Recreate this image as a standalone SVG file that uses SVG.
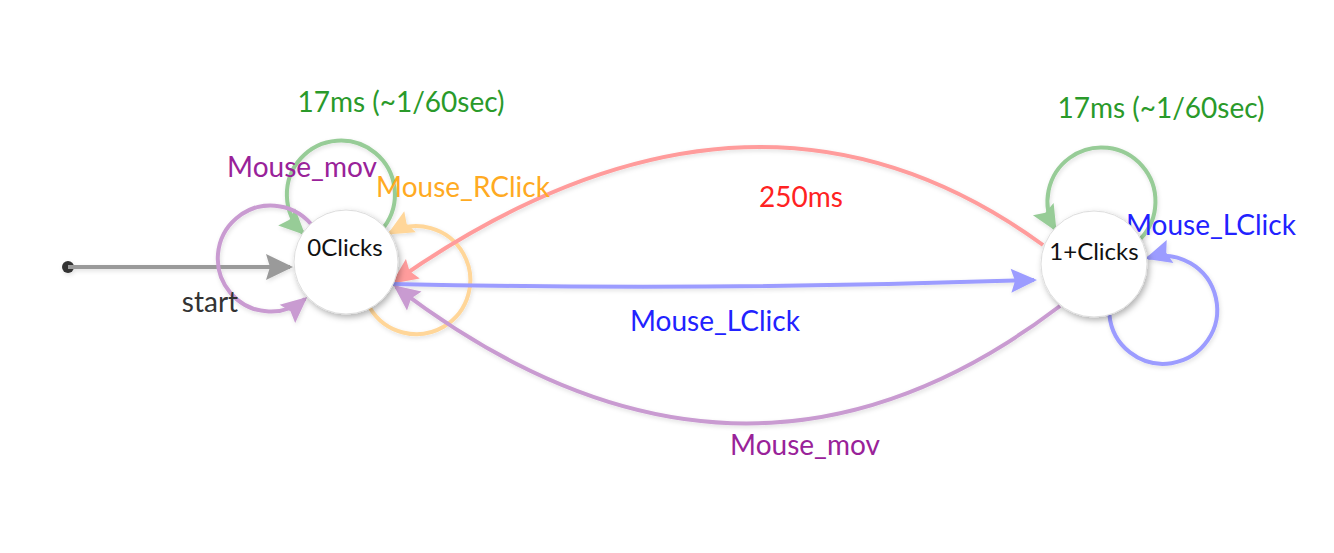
<svg xmlns="http://www.w3.org/2000/svg" width="1334" height="553" viewBox="0 0 1334 553">
<style>
  .edge { fill: none; stroke-width: 4; stroke-linecap: butt; }
  .lbl { font-family: Lato, "Open Sans", "Liberation Sans", sans-serif; font-size: 28px; text-anchor: middle; }
  .nodelbl { font-family: Lato, "Open Sans", "Liberation Sans", sans-serif; font-size: 24px; text-anchor: middle; fill: #111; }
  .node { fill: #ffffff; stroke: #dddddd; stroke-width: 1; }
</style>
<defs>
  <filter id="nshadow" x="-40%" y="-40%" width="180%" height="180%">
    <feDropShadow dx="2" dy="3" stdDeviation="3" flood-color="#000" flood-opacity="0.3"/>
  </filter>
  <filter id="eshadow" x="-10%" y="-10%" width="120%" height="120%">
    <feDropShadow dx="1" dy="2" stdDeviation="2" flood-color="#000" flood-opacity="0.12"/>
  </filter>
  <marker id="a-gray" viewBox="-30 -13 34 26" refX="-3" refY="0" markerWidth="34" markerHeight="26" markerUnits="userSpaceOnUse" orient="auto"><path d="M0,0 L-27,-13 L-23,0 L-27,13 Z" fill="#9a9a9a"/></marker>
  <marker id="a-green" viewBox="-30 -13 34 26" refX="-3" refY="0" markerWidth="34" markerHeight="26" markerUnits="userSpaceOnUse" orient="auto"><path d="M0,0 L-26,-12 L-22,0 L-26,12 Z" fill="#97cc97"/></marker>
  <marker id="a-purple" viewBox="-30 -13 34 26" refX="-3" refY="0" markerWidth="34" markerHeight="26" markerUnits="userSpaceOnUse" orient="auto"><path d="M0,0 L-26,-12 L-22,0 L-26,12 Z" fill="#c99bd1"/></marker>
  <marker id="a-orange" viewBox="-30 -13 34 26" refX="-3" refY="0" markerWidth="34" markerHeight="26" markerUnits="userSpaceOnUse" orient="auto"><path d="M0,0 L-26,-12 L-22,0 L-26,12 Z" fill="#ffd699"/></marker>
  <marker id="a-red" viewBox="-30 -13 34 26" refX="-3" refY="0" markerWidth="34" markerHeight="26" markerUnits="userSpaceOnUse" orient="auto"><path d="M0,0 L-26,-12 L-22,0 L-26,12 Z" fill="#ff9c9c"/></marker>
  <marker id="a-blue" viewBox="-30 -13 34 26" refX="-3" refY="0" markerWidth="34" markerHeight="26" markerUnits="userSpaceOnUse" orient="auto"><path d="M0,0 L-26,-12 L-22,0 L-26,12 Z" fill="#9c9cff"/></marker>
</defs>
<rect x="0" y="0" width="1334" height="553" fill="#ffffff"/>

<g id="connectors" filter="url(#eshadow)">
  <g id="edge-start">
    <circle cx="68" cy="267" r="6" fill="#333333"/>
    <path class="edge" d="M68,267 L290,267" stroke="#9a9a9a" marker-end="url(#a-gray)"/>
  </g>
  <path id="edge-a-green" class="edge" d="M384,227 A54,54 0 1 0 303,233" stroke="#97cc97" marker-end="url(#a-green)"/>
  <path id="edge-a-purple" class="edge" d="M311,224 A53,53 0 1 0 305,299" stroke="#c99bd1" marker-end="url(#a-purple)"/>
  <path id="edge-a-orange" class="edge" d="M370,308 A54,54 0 1 0 390,233" stroke="#ffd699" marker-end="url(#a-orange)"/>
  <path id="edge-red" class="edge" d="M1043,245 Q750,32 394,282" stroke="#ff9c9c" marker-end="url(#a-red)"/>
  <path id="edge-blue" class="edge" d="M393,284 Q715,291 1034,280" stroke="#9c9cff" marker-end="url(#a-blue)"/>
  <path id="edge-purple" class="edge" d="M1060,306 Q740,550 396,287" stroke="#c99bd1" marker-end="url(#a-purple)"/>
  <path id="edge-b-green" class="edge" d="M1140.6,238.7 A54,54 0 1 0 1055,229" stroke="#97cc97" marker-end="url(#a-green)"/>
  <path id="edge-b-blue" class="edge" d="M1109.4,314.7 A54,54 0 1 0 1148,258" stroke="#9c9cff" marker-end="url(#a-blue)"/>
</g>

<g id="edge-labels">
  <text class="lbl" x="210" y="312" fill="#333333">start</text>
  <text class="lbl" x="401" y="112" fill="#2a9a2a">17ms (~1/60sec)</text>
  <text class="lbl" x="302" y="177" fill="#992299">Mouse_mov</text>
  <text class="lbl" x="463" y="197" fill="#ffaa22">Mouse_RClick</text>
  <text class="lbl" x="801" y="207" fill="#ff2222">250ms</text>
  <text class="lbl" x="715" y="331" fill="#2222ff">Mouse_LClick</text>
  <text class="lbl" x="805" y="455" fill="#992299">Mouse_mov</text>
  <text class="lbl" x="1161" y="118" fill="#2a9a2a">17ms (~1/60sec)</text>
  <text class="lbl" x="1211" y="235" fill="#2222ff">Mouse_LClick</text>
</g>

<g id="node-0clicks">
  <circle class="node" cx="346" cy="262" r="52" filter="url(#nshadow)"/>
  <text class="nodelbl" x="345" y="256">0Clicks</text>
</g>
<g id="node-1clicks">
  <circle class="node" cx="1094" cy="264" r="53" filter="url(#nshadow)"/>
  <text class="nodelbl" x="1094" y="260">1+Clicks</text>
</g>
</svg>
